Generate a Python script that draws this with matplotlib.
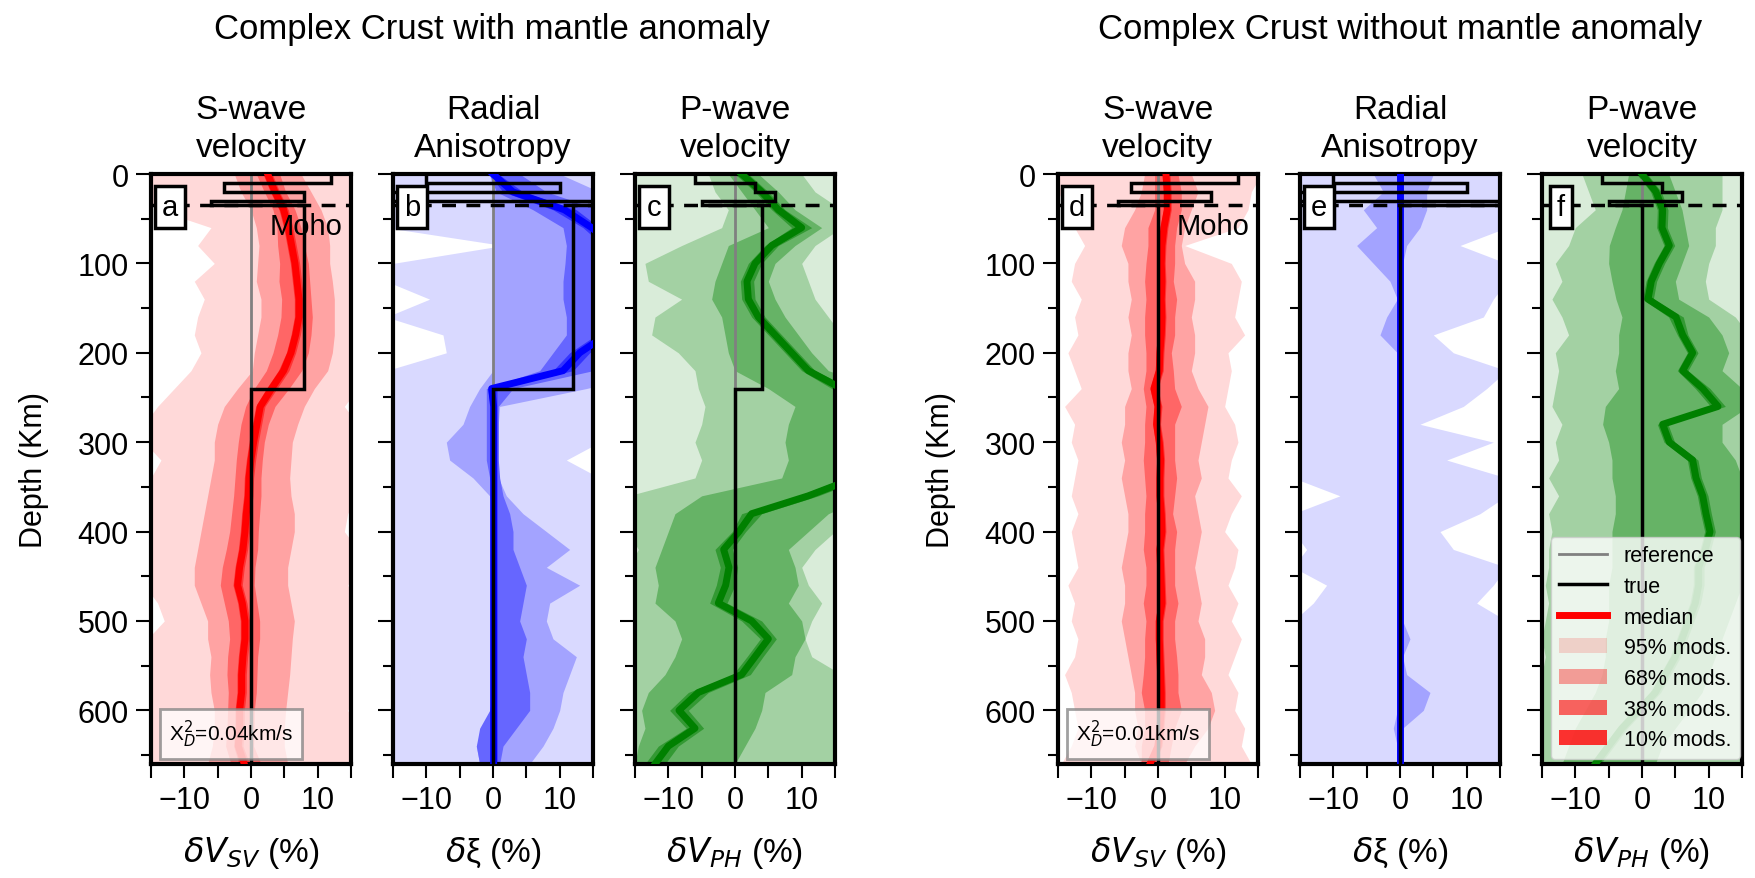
import numpy as np
import matplotlib
matplotlib.use("Agg")
import matplotlib.pyplot as plt
from matplotlib.lines import Line2D
from matplotlib.patches import Patch

plt.rcParams['font.family'] = ['Liberation Sans', 'DejaVu Sans']
plt.rcParams['mathtext.fontset'] = 'dejavusans'

# depth grid of the percentile profiles (km)
depth_km = [0, 20, 40, 60, 80, 100, 120, 140, 160, 180, 200, 220, 240, 260, 280, 300, 320,
            340, 360, 380, 400, 420, 440, 460, 480, 500, 520, 540, 560, 580, 600, 620, 640, 660]

# ---- a: dVsv, crust + mantle anomaly
vsv_a_med = [2.5, 3.6, 4.9, 5.6, 6.1, 6.6, 6.9, 7.2, 7.2, 6.7, 6.0, 4.9, 3.1, 1.4, 0.9, 0.4, 0.0,
             -0.3, -0.4, -0.7, -0.9, -1.2, -1.7, -2.0, -1.3, -0.9, -0.9, -1.2, -1.4, -1.4, -1.7, -1.7, -1.9, -1.0]
vsv_a_10lo = [1.8, 2.9, 4.2, 4.9, 5.4, 5.9, 6.2, 6.5, 6.5, 6.0, 5.3, 4.1, 2.3, 0.7, 0.2, -0.3, -0.7,
              -1.0, -1.1, -1.4, -1.6, -1.9, -2.4, -2.7, -2.0, -1.6, -1.6, -1.9, -2.1, -2.1, -2.4, -2.4, -2.6, -1.8]
vsv_a_10hi = [3.2, 4.3, 5.6, 6.3, 6.8, 7.3, 7.6, 7.9, 7.9, 7.4, 6.7, 5.7, 3.9, 2.1, 1.6, 1.1, 0.7,
              0.4, 0.3, 0.0, -0.2, -0.5, -1.0, -1.3, -0.6, -0.2, -0.2, -0.5, -0.7, -0.7, -1.0, -1.0, -1.2, -0.2]
vsv_a_38lo = [0.8, 2.0, 3.3, 3.9, 4.0, 4.3, 4.2, 4.6, 4.5, 4.0, 3.3, 2.3, 0.5, -0.8, -1.5, -1.9, -2.2,
              -2.4, -2.6, -2.9, -3.2, -3.7, -4.3, -4.6, -4.0, -3.4, -3.2, -3.5, -3.6, -3.4, -3.5, -3.6, -3.8, -3.0]
vsv_a_38hi = [4.3, 5.2, 6.6, 7.5, 8.0, 8.6, 8.8, 9.0, 9.2, 9.0, 8.6, 7.6, 5.7, 3.6, 2.6, 2.0, 1.7,
              1.5, 1.5, 1.3, 1.1, 1.0, 0.6, 0.5, 0.9, 1.3, 1.3, 1.0, 0.9, 0.8, 0.5, 0.5, 0.4, 1.5]
vsv_a_68lo = [-2.5, -1.5, 0.0, 0.8, 1.2, 1.0, 0.8, 1.5, 1.5, 1.0, 0.5, 0.2, -2.0, -4.0, -5.0, -5.5, -5.5,
              -6.0, -6.5, -7.0, -7.5, -8.0, -8.5, -8.5, -7.5, -6.5, -6.5, -6.0, -6.2, -6.0, -5.5, -5.5, -5.8, -6.5]
vsv_a_68hi = [7.5, 9.0, 10.5, 11.5, 11.8, 11.8, 12.2, 12.5, 12.5, 12.5, 12.2, 11.5, 9.5, 8.0, 7.0, 6.2, 6.0,
              5.8, 6.0, 6.5, 6.5, 6.0, 5.5, 5.5, 6.0, 6.5, 6.2, 6.0, 5.8, 5.5, 5.2, 5.0, 5.0, 5.5]
vsv_a_95lo = [-16, -16, -14, -6.0, -8.0, -5.5, -8.5, -7.0, -8.0, -8.5, -7.5, -9.0, -11.5, -14.0, -16, -16, -13.5,
              -15.0, -16, -16, -16, -16, -16, -16, -14.0, -13.0, -15.5, -16, -16, -16, -16, -16, -16, -16]
vsv_a_95hi = [16, 16, 16, 16, 16, 16, 16, 16, 16, 16, 16, 16, 16, 14.0, 16, 16, 16,
              16, 16, 14.5, 14.0, 16, 16, 14.5, 16, 16, 16, 16, 16, 16, 14.5, 16, 16, 16]

# ---- b: dxi, crust + mantle anomaly
xi_a_med = [0.0, 3.0, 10.7, 14.8, 18.0, 19.0, 19.0, 19.0, 18.5, 17.0, 13.0, 10.5, -0.2, 0.1, 0.1, 0.1, 0.1,
            0.1, 0.1, 0.1, 0.1, 0.1, 0.1, 0.1, 0.1, 0.1, 0.1, 0.1, 0.1, 0.1, 0.1, 0.1, 0.1, 0.1]
xi_a_10lo = [-0.6, 1.5, 9.0, 13.5, 16.5, 17.5, 17.5, 17.5, 17.0, 15.5, 11.5, 9.0, -0.8, -0.4, -0.4, -0.4, -0.4,
             -0.4, -0.4, -0.4, -0.4, -0.4, -0.4, -0.4, -0.4, -0.4, -0.4, -0.4, -0.4, -0.4, -0.4, -0.4, -0.4, -0.4]
xi_a_10hi = [0.8, 4.5, 12.5, 16.0, 19.5, 20.5, 20.5, 20.5, 20.0, 18.5, 14.5, 12.0, 0.6, 0.6, 0.6, 0.6, 0.6,
             0.6, 0.6, 0.6, 0.6, 0.6, 0.6, 0.6, 0.6, 0.6, 0.6, 0.6, 0.6, 0.6, 0.6, 0.6, 0.6, 0.6]
xi_a_38lo = [-0.5, 0.5, 6.0, 10.5, 11.0, 10.8, 10.5, 10.5, 11.0, 11.0, 9.0, 7.0, -1.0, -1.0, -1.0, -1.0, -1.0,
             -0.5, 0.0, 0.0, 0.0, 0.0, 0.0, 0.0, 0.0, 0.0, 0.0, 0.0, 0.0, 0.0, -0.5, -2.0, -2.5, -2.0]
xi_a_38hi = [4.0, 8.0, 16.0, 20.0, 24.0, 24.0, 24.0, 24.0, 24.0, 22.0, 18.0, 15.0, 3.0, 0.8, 0.8, 0.8, 0.8,
             1.0, 1.5, 2.5, 3.0, 3.0, 4.0, 5.0, 4.5, 4.0, 5.0, 4.5, 5.0, 5.5, 5.5, 3.5, 1.5, 1.0]
xi_a_68lo = [-0.5, 0.0, 0.0, 0.0, 0.0, 0.0, 0.0, 0.0, 0.0, 0.0, 0.0, 0.0, -2.0, -3.5, -4.5, -7.0, -6.5,
             -3.0, -0.5, 0.0, 0.0, 0.0, 0.0, 0.0, 0.0, 0.0, 0.0, 0.0, 0.0, 0.0, 0.0, -1.5, -2.5, -2.0]
xi_a_68hi = [10.0, 16.0, 20.0, 25.0, 25.0, 25.0, 25.0, 25.0, 25.0, 25.0, 25.0, 25.0, 14.0, 1.0, 0.8, 0.8, 0.8,
             0.8, 2.0, 4.5, 8.0, 11.5, 8.0, 13.0, 8.5, 8.0, 9.0, 12.5, 11.5, 10.5, 10.0, 9.0, 7.5, 5.5]
xi_a_95lo = [-16, -16, -16, -16, 1.5, -15.0, -16, -9.5, -16, -7.5, -7.0, -16, -16, -16, -16, -16, -16,
             -16, -16, -16, -16, -16, -16, -16, -16, -16, -16, -16, -16, -16, -16, -16, -16, -16]
xi_a_95hi = [16, 16, 16, 16, 16, 16, 16, 16, 16, 16, 16, 16, 16, 16, 16, 16, 11.0,
             16, 16, 16, 16, 16, 16, 16, 16, 16, 16, 16, 16, 16, 16, 16, 16, 16]

# ---- c: dVph, crust + mantle anomaly
vph_a_med = [1.0, 4.0, 6.5, 10.0, 5.5, 3.0, 1.8, 2.0, 3.5, 6.0, 8.5, 11.0, 16.0, 20.0, 20.0, 20.0, 20.0,
             18.0, 11.0, 2.5, 0.6, -1.7, -0.9, -1.4, -2.5, 2.5, 5.0, 3.0, 1.0, -5.5, -8.4, -6.0, -10.0, -12.0]
vph_a_10lo = [0.0, 3.0, 5.5, 8.5, 4.5, 2.0, 0.8, 1.0, 2.5, 5.0, 7.5, 10.0, 14.5, 19.0, 19.0, 19.0, 19.0,
              16.5, 9.5, 1.0, -0.4, -3.0, -2.2, -2.8, -3.8, 1.0, 3.8, 1.8, -0.3, -7.0, -9.8, -7.3, -11.5, -13.5]
vph_a_10hi = [2.0, 5.0, 7.5, 11.5, 6.5, 4.0, 2.8, 3.0, 4.5, 7.0, 9.5, 12.0, 17.5, 21.0, 21.0, 21.0, 21.0,
              19.5, 12.5, 4.0, 1.6, -0.4, 0.4, 0.0, -1.2, 4.0, 6.2, 4.2, 2.3, -4.0, -7.0, -4.7, -8.5, -10.5]
vph_a_38lo = [-1.0, 1.0, 3.0, 5.0, -1.0, -2.0, -3.0, -3.5, -2.0, -1.5, -1.0, 0.0, 5.0, 9.0, 8.0, 7.5, 8.0,
              7.0, -5.0, -9.0, -10.0, -11.0, -12.0, -11.5, -12.0, -9.0, -8.0, -9.0, -10.5, -13.0, -14.0, -13.5, -14.5, -15.0]
vph_a_38hi = [3.5, 6.5, 9.0, 13.0, 9.0, 6.0, 5.0, 6.0, 7.5, 9.5, 11.5, 14.0, 22.0, 25.0, 25.0, 25.0, 25.0,
              25.0, 20.0, 14.0, 11.0, 8.0, 9.0, 9.5, 8.0, 10.0, 10.5, 9.0, 8.5, 4.5, 4.0, 3.0, 1.5, 0.0]
vph_a_68lo = [-4.0, -3.0, -1.0, -2.0, -8.0, -13.5, -13.0, -8.0, -12.0, -12.5, -8.5, -6.0, -5.5, -4.5, -5.0, -6.0, -5.0,
              -6.0, -16, -16, -16, -14.5, -16, -16, -15.0, -16, -16, -16, -16, -16, -16, -16, -16, -16]
vph_a_68hi = [10.0, 12.0, 16.0, 16.0, 12.0, 10.0, 11.0, 12.0, 14.0, 16.0, 25.0, 25.0, 25.0, 25.0, 25.0, 25.0, 25.0,
              25.0, 25.0, 16.0, 15.0, 12.0, 10.0, 11.0, 13.0, 11.5, 10.5, 11.5, 16.0, 16.0, 16.0, 16.0, 16.0, 16.0]
vph_a_95lo = [-16] * 34
vph_a_95hi = [16] * 34

# ---- d: dVsv, crust only
vsv_b_med = [1.2, 1.4, 1.4, 0.9, 0.6, 0.5, 0.6, 0.5, 0.6, 0.5, 0.3, 0.2, -0.6, 0.0, -0.2, 0.2, 0.4,
             0.3, 0.3, 0.5, 0.6, 0.3, 0.4, 0.5, 0.6, 0.2, 0.2, 0.3, 0.4, 0.5, 0.5, 0.3, 0.0, -1.2]
vsv_b_10lo = [0.6, 0.8, 0.8, 0.3, 0.0, -0.1, 0.0, -0.1, 0.0, -0.1, -0.3, -0.4, -1.2, -0.6, -0.8, -0.4, -0.2,
              -0.3, -0.3, -0.1, 0.0, -0.3, -0.2, -0.1, 0.0, -0.4, -0.4, -0.3, -0.2, -0.1, -0.1, -0.3, -0.6, -1.8]
vsv_b_10hi = [1.8, 2.0, 2.0, 1.5, 1.2, 1.1, 1.2, 1.1, 1.2, 1.1, 0.9, 0.8, 0.0, 0.6, 0.4, 0.8, 1.0,
              0.9, 0.9, 1.1, 1.2, 0.9, 1.0, 1.1, 1.2, 0.8, 0.8, 0.9, 1.0, 1.1, 1.1, 0.9, 0.6, -0.6]
vsv_b_38lo = [-0.5, -0.5, -0.5, -1.5, -1.5, -1.8, -2.0, -1.8, -2.0, -2.0, -1.8, -1.8, -2.2, -1.8, -2.0, -2.0, -2.2,
              -2.0, -1.8, -2.0, -2.0, -2.2, -1.8, -1.8, -2.2, -1.8, -2.0, -2.0, -2.2, -2.5, -2.0, -2.0, -2.5, -2.5]
vsv_b_38hi = [3.0, 3.5, 3.5, 2.8, 2.5, 2.5, 2.3, 2.8, 2.5, 2.5, 2.0, 2.3, 2.5, 3.5, 2.5, 2.5, 2.5,
              2.8, 2.5, 2.2, 2.8, 2.5, 2.5, 2.5, 3.0, 2.5, 2.5, 2.8, 3.0, 3.0, 3.5, 2.5, 2.0, 1.5]
vsv_b_68lo = [-2.0, -2.5, -3.5, -5.0, -5.5, -4.5, -4.5, -4.0, -4.5, -4.0, -4.5, -4.5, -4.0, -5.0, -5.0, -5.5, -5.0,
              -5.5, -5.0, -4.5, -4.5, -5.0, -5.5, -5.0, -5.0, -5.5, -5.0, -4.5, -4.0, -3.5, -3.5, -3.0, -3.5, -2.5]
vsv_b_68hi = [5.0, 6.0, 5.0, 4.0, 3.5, 4.0, 5.5, 5.5, 5.0, 5.5, 5.5, 5.0, 6.0, 7.5, 7.0, 6.5, 6.0,
              6.5, 5.5, 6.0, 6.5, 6.0, 5.5, 6.0, 6.5, 6.0, 7.0, 7.0, 6.5, 8.0, 8.5, 7.5, 5.5, 4.0]
vsv_b_95lo = [-16, -15.0, -13.5, -12.5, -11.0, -12.5, -13.0, -11.5, -12.5, -12.0, -13.5, -12.5, -11.5, -14.0, -12.5, -13.0, -12.0,
              -12.5, -13.0, -12.0, -13.0, -12.5, -12.0, -13.5, -12.5, -13.0, -12.0, -12.5, -14.0, -13.0, -12.5, -12.0, -13.0, -14.5]
vsv_b_95hi = [15.5, 14.0, 13.5, 12.0, 4.0, 11.0, 12.5, 12.0, 11.5, 13.0, 10.5, 11.0, 10.5, 10.0, 11.5, 12.0, 11.0,
              10.5, 12.5, 11.0, 10.0, 12.0, 11.5, 10.5, 12.0, 11.0, 12.5, 11.5, 10.5, 12.0, 11.5, 13.0, 12.5, 14.0]

# ---- e: dxi, crust only
xi_b_med = [0.0] * 34
xi_b_10lo = [-0.2] * 34
xi_b_10hi = [0.2] * 34
xi_b_38lo = [-0.4] * 34
xi_b_38hi = [0.4] * 34
xi_b_68lo = [-4.0, -2.5, -5.5, -3.5, -6.5, -4.0, -1.5, -0.4, -2.0, -3.0, -0.4, -0.4, -0.4, -0.4, -0.4, -0.4, -0.4,
             -0.4, -0.4, -0.4, -0.4, -0.4, -0.4, -0.4, -0.4, -0.4, -0.4, -0.4, -0.4, -0.4, -0.4, -1.0, -0.4, -0.4]
xi_b_68hi = [5.0, 4.0, 4.0, 3.0, 1.0, 0.4, 0.4, 0.4, 0.4, 0.4, 0.4, 0.4, 0.4, 0.4, 0.4, 0.4, 0.4,
             0.4, 0.4, 0.4, 0.4, 0.4, 0.4, 0.4, 0.4, 0.4, 1.5, 0.4, 1.0, 4.5, 3.5, 0.4, 0.4, 0.4]
xi_b_95lo = [-16, -16, -16, -16, -16, -16, -16, -16, -16, -16, -16, -16, -16, -16, -16, -16, -16,
             -16, -9.0, -16, -16, -14.0, -16, -11.0, -13.0, -16, -16, -16, -16, -16, -16, -16, -16, -16]
xi_b_95hi = [16, 16, 16, 16, 9.0, 16, 16, 14.0, 12.5, 5.0, 8.0, 16, 13.0, 9.5, 3.0, 14.0, 7.0,
             16, 16, 12.0, 6.0, 8.0, 16, 14.0, 11.5, 16, 16, 16, 16, 16, 16, 16, 16, 16]

# ---- f: dVph, crust only
vph_b_med = [0.0, 2.1, 3.1, 3.0, 4.1, 2.6, 1.4, 0.9, 5.1, 6.1, 7.6, 6.1, 9.1, 11.4, 3.1, 4.1, 7.6,
             8.1, 9.1, 9.6, 10.2, 9.5, 8.5, 8.5, 8.0, 7.0, 6.0, 5.0, 3.5, 2.0, -0.5, -3.0, -5.0, -7.0]
vph_b_10lo = [-0.8, 1.3, 2.3, 2.2, 3.3, 1.8, 0.6, 0.1, 4.0, 5.3, 6.8, 5.3, 8.0, 10.3, 2.3, 3.3, 6.8,
              7.3, 8.3, 8.8, 9.4, 8.7, 7.7, 7.7, 7.2, 6.2, 5.2, 4.2, 2.7, 1.2, -1.3, -3.8, -5.8, -7.8]
vph_b_10hi = [0.8, 2.9, 3.9, 3.8, 4.9, 3.4, 2.2, 1.7, 6.2, 6.9, 8.4, 6.9, 10.2, 12.5, 3.9, 4.9, 8.4,
              8.9, 9.9, 10.4, 11.0, 10.3, 9.3, 9.3, 8.8, 7.8, 6.8, 5.8, 4.3, 2.8, 0.3, -2.2, -4.2, -6.2]
vph_b_38lo = [-2.0, -2.5, -3.0, -4.0, -4.9, -5.0, -4.5, -3.9, -3.0, -3.5, -3.5, -4.0, -3.5, -5.5, -5.9, -5.0, -4.5,
              -4.5, -4.0, -4.0, -4.5, -4.5, -4.5, -5.0, -5.0, -5.0, -5.5, -5.5, -6.0, -7.0, -8.5, -10.0, -11.0, -12.0]
vph_b_38hi = [4.0, 5.0, 6.0, 6.5, 7.0, 6.0, 5.0, 5.5, 10.0, 12.0, 13.0, 12.0, 15.0, 16.0, 12.0, 12.0, 14.0,
              15.0, 15.0, 16.0, 16.0, 16.0, 15.0, 15.0, 14.0, 13.0, 12.0, 11.0, 10.0, 9.0, 7.0, 5.0, 3.0, 2.0]
vph_b_68lo = [-9.0, -8.0, -7.0, -10.0, -11.0, -13.0, -12.0, -13.5, -12.0, -11.0, -13.0, -12.5, -13.0, -13.5, -12.0, -13.0, -12.5,
              -14.0, -12.5, -14.0, -13.5, -14.0, -14.0, -14.5, -14.0, -14.5, -15.0, -14.5, -15.0, -16, -16, -16, -16, -16]
vph_b_68hi = [12.0, 12.0, 12.0, 11.0, 11.0, 10.0, 9.5, 10.0, 14.0, 16.0, 16.0, 16.0, 16.0, 16.0, 16.0, 16.0, 16.0,
              16.0, 16.0, 16.0, 16.0, 16.0, 16.0, 16.0, 16.0, 16.0, 16.0, 16.0, 16.0, 16.0, 16.0, 16.0, 16.0, 16.0]
vph_b_95lo = [-16] * 34
vph_b_95hi = [16] * 34

# true models: layer edges (km) and values per layer (%)
layer_edges = [0, 10, 20, 30, 35, 240, 660]
true_vsv_anom = [12, -4, 8, -6, 8, 0]
true_xi_anom = [-10, 10, -20, 20, 12, 0]
true_vph_anom = [-6, 3, 6, -5, 4, 0]
true_vsv_flat = [12, -4, 8, -6, 0, 0]
true_xi_flat = [-10, 10, -20, 20, 0, 0]
true_vph_flat = [-6, 3, 6, -5, 0, 0]

moho_km = 35
chi2_text = ['0.04', '0.01']
panel_letters = ['a', 'b', 'c', 'd', 'e', 'f']
col_titles = ['S-wave\nvelocity', 'Radial\nAnisotropy', 'P-wave\nvelocity']
xlabels = [r'$\delta V_{SV}$ (%)', r'$\delta$ξ (%)', r'$\delta V_{PH}$ (%)']
group_titles = ['Complex Crust with mantle anomaly', 'Complex Crust without mantle anomaly']

shades = {
    'red':   ['#ffd9d9', '#ffa3a3', '#ff6666', '#ff3333', 'red'],
    'blue':  ['#d9d9ff', '#a3a3ff', '#6666ff', '#3333ff', 'blue'],
    'green': ['#d9ecd9', '#a3d1a3', '#66b366', '#339933', 'green'],
}

panels = [
    ('red', vsv_a_med, [(vsv_a_95lo, vsv_a_95hi), (vsv_a_68lo, vsv_a_68hi), (vsv_a_38lo, vsv_a_38hi), (vsv_a_10lo, vsv_a_10hi)], true_vsv_anom),
    ('blue', xi_a_med, [(xi_a_95lo, xi_a_95hi), (xi_a_68lo, xi_a_68hi), (xi_a_38lo, xi_a_38hi), (xi_a_10lo, xi_a_10hi)], true_xi_anom),
    ('green', vph_a_med, [(vph_a_95lo, vph_a_95hi), (vph_a_68lo, vph_a_68hi), (vph_a_38lo, vph_a_38hi), (vph_a_10lo, vph_a_10hi)], true_vph_anom),
    ('red', vsv_b_med, [(vsv_b_95lo, vsv_b_95hi), (vsv_b_68lo, vsv_b_68hi), (vsv_b_38lo, vsv_b_38hi), (vsv_b_10lo, vsv_b_10hi)], true_vsv_flat),
    ('blue', xi_b_med, [(xi_b_95lo, xi_b_95hi), (xi_b_68lo, xi_b_68hi), (xi_b_38lo, xi_b_38hi), (xi_b_10lo, xi_b_10hi)], true_xi_flat),
    ('green', vph_b_med, [(vph_b_95lo, vph_b_95hi), (vph_b_68lo, vph_b_68hi), (vph_b_38lo, vph_b_38hi), (vph_b_10lo, vph_b_10hi)], true_vph_flat),
]

FS = 22

fig = plt.figure(figsize=(17.55, 8.79), dpi=100)
lefts = [0.0860, 0.2239, 0.3618, 0.6028, 0.7407, 0.8786]
axes = []
for i, (cname, med, bands, true_vals) in enumerate(panels):
    ax = fig.add_axes([lefts[i], 0.1297, 0.1140, 0.6712])
    axes.append(ax)
    cols = shades[cname]
    for (lo, hi), c in zip(bands, cols[:4]):
        ax.fill_betweenx(depth_km, lo, hi, color=c, lw=0, zorder=1)
    ax.axvline(0, color='gray', lw=2, zorder=2)
    ax.plot(med, depth_km, color=cols[4], lw=5, zorder=3, solid_joinstyle='round')
    ax.stairs(true_vals, layer_edges, orientation='horizontal', baseline=None,
              color='black', lw=2.5, zorder=4)
    ax.axhline(moho_km, color='black', lw=2.5, ls=(0, (4, 3)), zorder=5)

    ax.set_xlim(-15, 15)
    ax.set_ylim(660, 0)
    ax.set_xticks([-10, 0, 10])
    ax.set_xticks([-15, -5, 5, 15], minor=True)
    ax.set_yticks(range(0, 601, 100))
    ax.set_yticks(range(50, 651, 100), minor=True)
    ax.tick_params(which='both', direction='out', labelsize=FS, width=1.5, color='black', pad=5)
    ax.tick_params(axis='x', which='both', length=10)
    ax.tick_params(axis='y', which='major', length=11)
    ax.tick_params(axis='y', which='minor', length=7)
    for sp in ax.spines.values():
        sp.set_linewidth(3)
    ax.set_title(col_titles[i % 3], fontsize=24, pad=13, linespacing=1.3)
    ax.set_xlabel(xlabels[i % 3], fontsize=24, va='center')
    ax.xaxis.set_label_coords(0.5, -0.15)
    if i % 3 == 0:
        ax.set_ylabel('Depth (Km)', fontsize=FS, va='center')
        ax.yaxis.set_label_coords(-0.585, 0.5)
    else:
        ax.set_yticklabels([])

    ax.text(0.095, 0.944, panel_letters[i], transform=ax.transAxes, fontsize=21,
            ha='center', va='center', zorder=10,
            bbox=dict(boxstyle='square,pad=0.25', fc='white', ec='black', lw=2.5))

    if i % 3 == 0:
        ax.text(2.8, 58, 'Moho', fontsize=21, ha='left', va='center', zorder=6)
        ax.text(-12.3, 626, r'X$^2_D$=' + chi2_text[i // 3] + 'km/s', fontsize=15,
                ha='left', va='center', zorder=6,
                bbox=dict(boxstyle='square,pad=0.45', fc='white', ec='gray', lw=2, alpha=0.75))

fig.text(0.2805, 0.966, group_titles[0], fontsize=25, ha='center', va='center')
fig.text(0.7975, 0.966, group_titles[1], fontsize=25, ha='center', va='center')

handles = [
    Line2D([], [], color='gray', lw=2, label='reference'),
    Line2D([], [], color='black', lw=2.5, label='true'),
    Line2D([], [], color='red', lw=5, label='median'),
    Patch(facecolor='red', alpha=0.15, lw=0, label='95% mods.'),
    Patch(facecolor='red', alpha=0.36, lw=0, label='68% mods.'),
    Patch(facecolor='red', alpha=0.6, lw=0, label='38% mods.'),
    Patch(facecolor='red', alpha=0.8, lw=0, label='10% mods.'),
]
leg = axes[5].legend(handles=handles, loc='lower right', bbox_to_anchor=(1.0, 0.005),
                     borderaxespad=0.1, fontsize=15.5, framealpha=0.8, handlelength=2.2,
                     handletextpad=0.8, labelspacing=0.45, fancybox=True)
leg.set_zorder(20)

fig.savefig('out.png', dpi=100)
